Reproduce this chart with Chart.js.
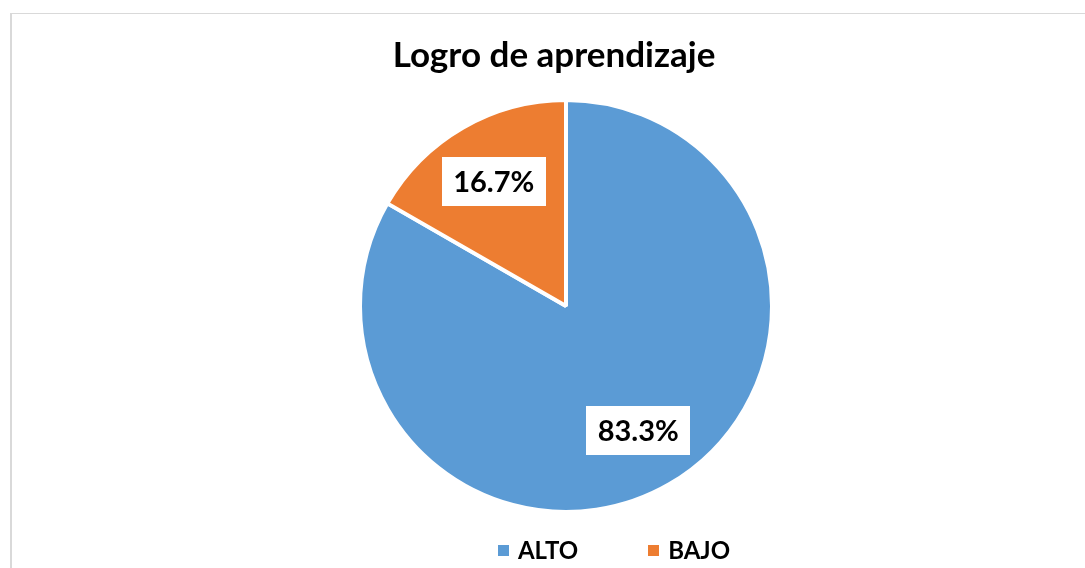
<!DOCTYPE html>
<html>
<head>
<meta charset="utf-8">
<script src="https://cdn.jsdelivr.net/npm/chart.js@4.4.1/dist/chart.umd.min.js"></script>
<style>
body { margin: 0; background: #fff; }
#frame { position: absolute; left: 10px; top: 13px; width: 1100px; height: 600px;
  border-left: 2px solid #d9d9d9; border-top: 1px solid #d9d9d9; }
#myChart { position: absolute; left: 0; top: 0; }
</style>
</head>
<body>
<div id="frame"></div>
<canvas id="myChart" width="1085" height="568"></canvas>
<script>
var chartTitle = 'Logro de aprendizaje';
var categories = ['ALTO', 'BAJO'];
var percents = [83.3, 16.7];
var sliceColors = ['#5B9BD5', '#ED7D31'];

// white boxes with the percentage, placed inside each slice
var labelBoxes = {
  id: 'labelBoxes',
  afterDatasetsDraw: function(chart) {
    var ctx = chart.ctx;
    var meta = chart.getDatasetMeta(0);
    var values = chart.data.datasets[0].data;
    ctx.save();
    ctx.font = 'bold 29px Lato';
    ctx.textAlign = 'center';
    ctx.textBaseline = 'middle';
    meta.data.forEach(function(arc, i) {
      var p = arc.getProps(['x', 'y', 'startAngle', 'endAngle', 'outerRadius'], true);
      var mid = (p.startAngle + p.endAngle) / 2;
      var r = p.outerRadius * 0.7;
      var x = p.x + Math.cos(mid) * r;
      var y = p.y + Math.sin(mid) * r;
      var txt = values[i].toFixed(1) + '%';
      var w = ctx.measureText(txt).width + 23;
      var h = 49;
      ctx.fillStyle = '#fff';
      ctx.fillRect(Math.round(x - w / 2), Math.round(y - h / 2), Math.round(w), h);
      ctx.fillStyle = '#000';
      ctx.fillText(txt, x, y + 1);
    });
    ctx.restore();
  }
};

// legend under the pie, a bit right of centre like the original
var bottomLegend = {
  id: 'bottomLegend',
  afterLayout: function(chart) {
    chart.titleBlock.left -= 12;
    chart.titleBlock.right -= 12;
  },
  afterDraw: function(chart) {
    var ctx = chart.ctx;
    var area = chart.chartArea;
    var colors = chart.data.datasets[0].backgroundColor;
    var labels = chart.data.labels;
    var box = 11, gap = 9, itemGap = 70;
    ctx.save();
    ctx.font = 'bold 24px Lato';
    ctx.textBaseline = 'middle';
    ctx.textAlign = 'left';
    var widths = labels.map(function(t) { return box + gap + ctx.measureText(t).width; });
    var total = widths.reduce(function(a, b) { return a + b; }, 0) + itemGap * (labels.length - 1);
    var x = (area.left + area.right) / 2 + 48 - total / 2;
    var y = 550;
    labels.forEach(function(t, i) {
      ctx.fillStyle = colors[i];
      ctx.fillRect(Math.round(x), Math.round(y - box / 2), box, box);
      ctx.fillStyle = '#000';
      ctx.fillText(t, x + box + gap, y + 1);
      x += widths[i] + itemGap;
    });
    ctx.restore();
  }
};

var ctx = document.getElementById('myChart');
var myChart = new Chart(ctx, {
  type: 'pie',
  data: {
    labels: categories,
    datasets: [{
      data: percents,
      backgroundColor: sliceColors,
      borderColor: '#ffffff',
      borderWidth: 4,
      hoverOffset: 0
    }]
  },
  options: {
    responsive: false,
    animation: false,
    radius: 206,
    layout: {
      padding: { left: 47, right: 0, top: 0, bottom: 56 }
    },
    plugins: {
      title: {
        display: true,
        text: chartTitle,
        color: '#000',
        font: { family: 'Lato', size: 35, weight: 'bold' },
        padding: { top: 35, bottom: 23 }
      },
      legend: { display: false },
      tooltip: { enabled: false }
    }
  },
  plugins: [labelBoxes, bottomLegend]
});
</script>
</body>
</html>
